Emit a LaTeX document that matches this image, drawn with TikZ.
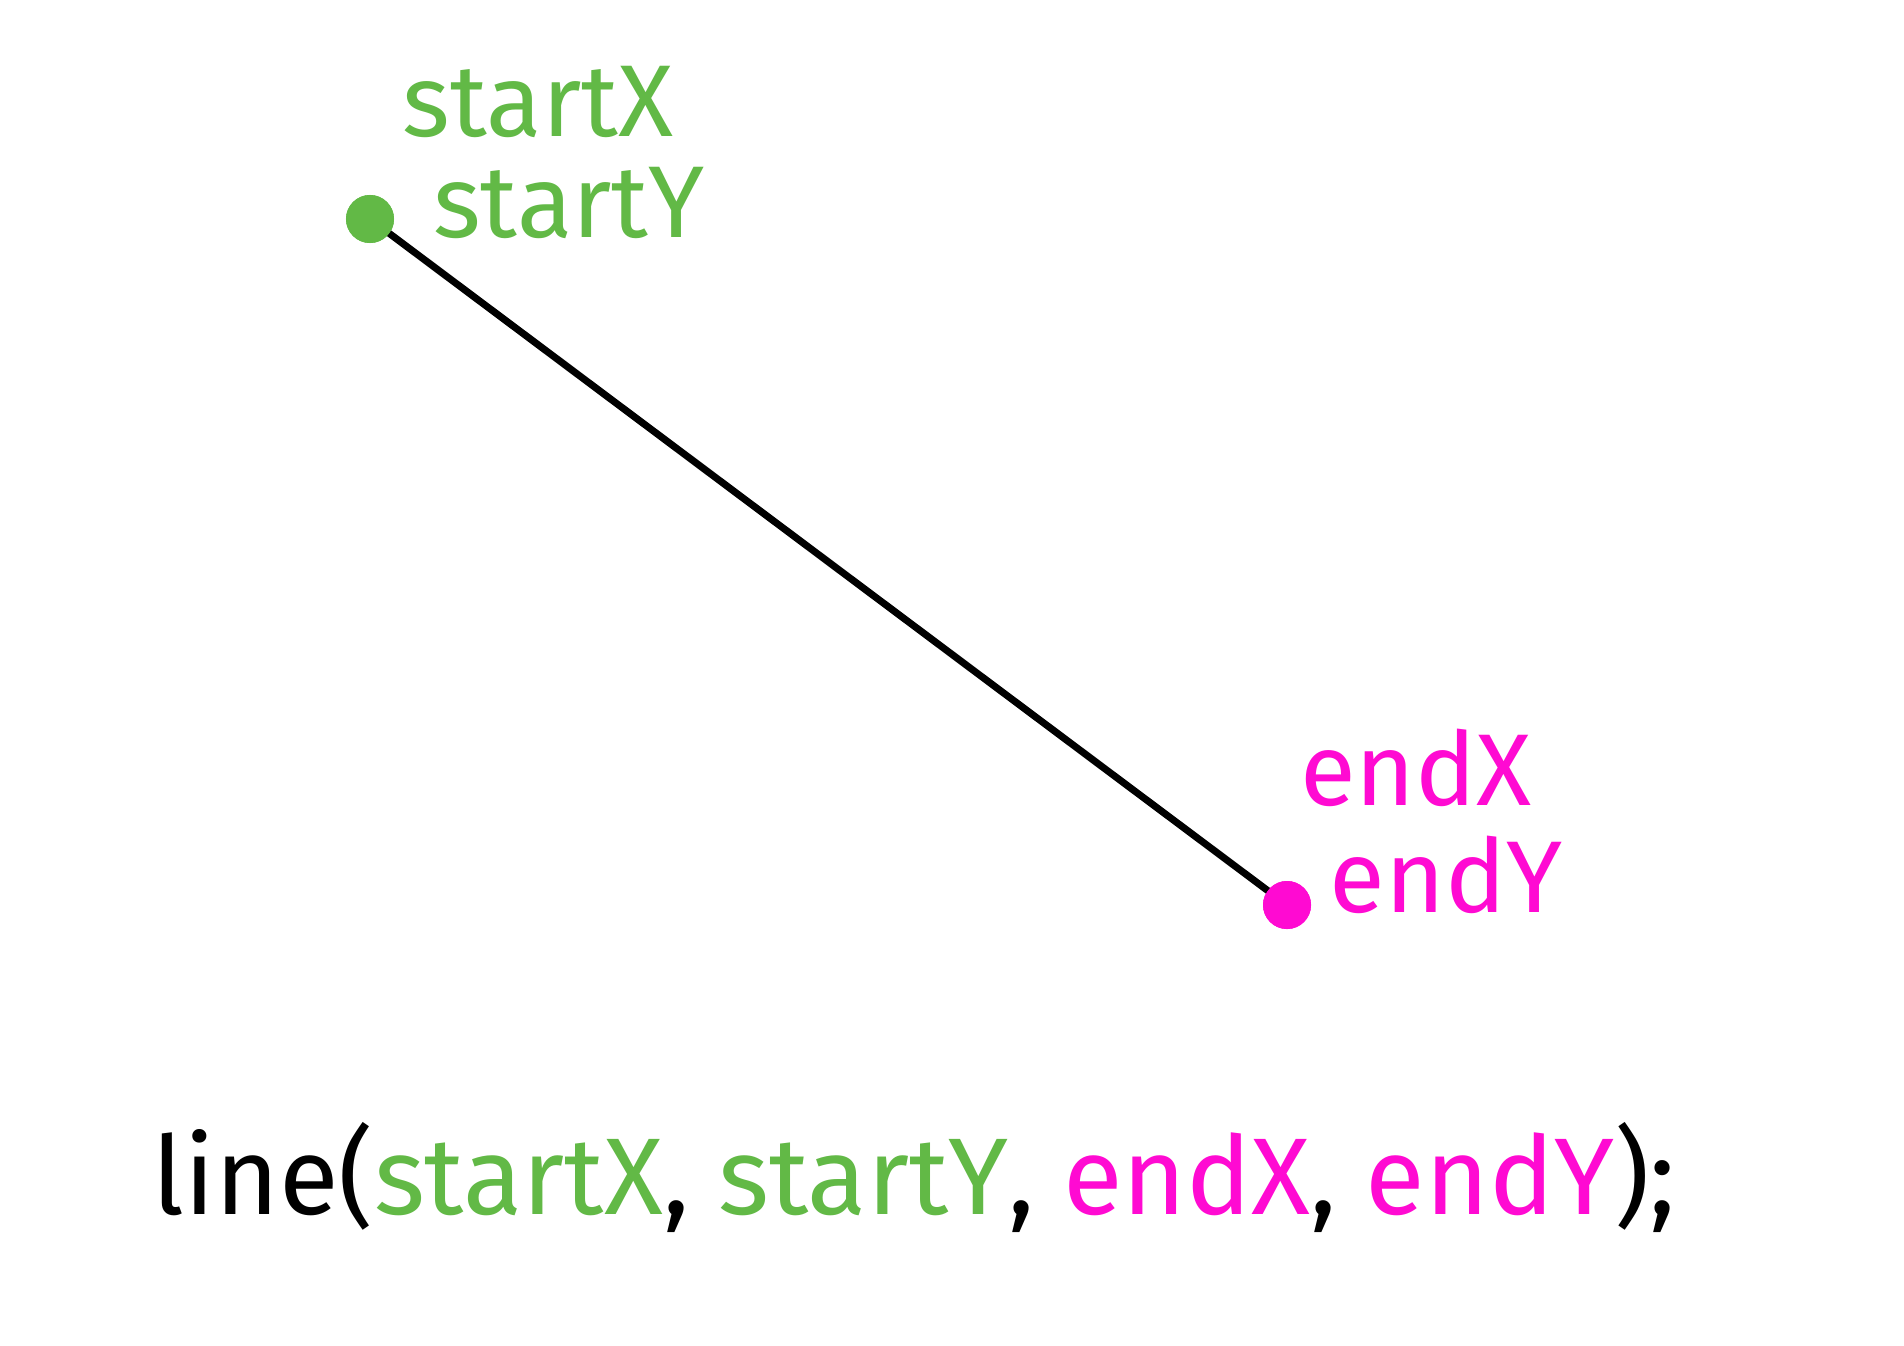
\documentclass[tikz,border=0pt]{standalone}
\usepackage{fontspec}
\setmainfont{Fira Sans}
\definecolor{sgreen}{RGB}{98,185,70}
\definecolor{epink}{RGB}{255,10,210}
\begin{document}
\begin{tikzpicture}[x=0.01cm,y=-0.01cm,
  dotstyle/.style={circle,inner sep=0pt,minimum size=0.48cm},
  lbl/.style={font=\fontsize{29}{29}\selectfont,inner sep=0pt},
  code/.style={font=\fontsize{31}{31}\selectfont,inner sep=0pt}]
\useasboundingbox (0,0) rectangle (1904,1345);
\fill[white] (0,0) rectangle (1904,1345);
\node[dotstyle,fill=sgreen] (start) at (370,219) {};
\node[dotstyle,fill=epink] (end) at (1287,905) {};
\draw[line width=2pt,line cap=round] (start.center) -- (end.center);
\fill[sgreen] (start) circle (0.24cm);
\fill[epink] (end) circle (0.24cm);
\node[lbl,text=sgreen] (sx) at (538,102) {startX};
\node[lbl,text=sgreen] (sy) at (569,203) {startY};
\node[lbl,text=epink] (ex) at (1416,768) {endX};
\node[lbl,text=epink] (ey) at (1446,875) {endY};
\node[code,anchor=base west] (codeline) at (152,1214) {line(\textcolor{sgreen}{startX}, \textcolor{sgreen}{startY}, \textcolor{epink}{endX}, \textcolor{epink}{endY});};
\end{tikzpicture}
\end{document}
